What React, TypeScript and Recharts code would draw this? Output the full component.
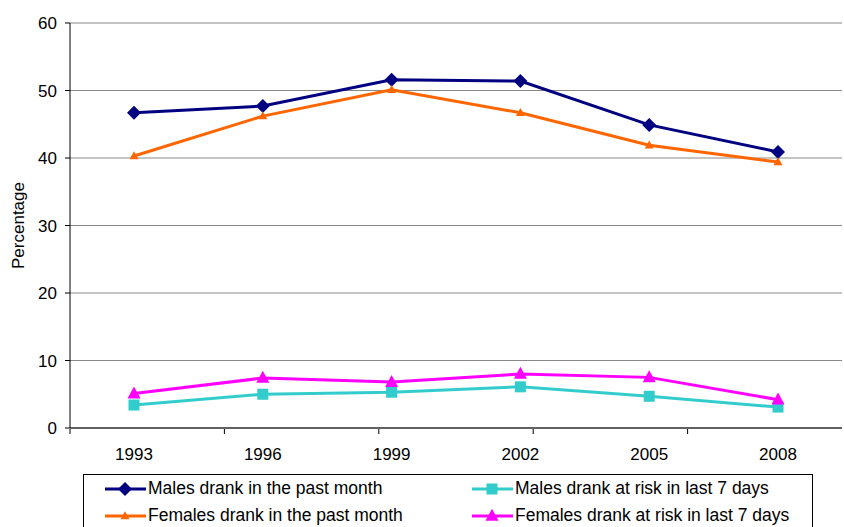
import React from "react";
import {
  LineChart,
  Line,
  XAxis,
  YAxis,
  CartesianGrid,
} from "recharts";

const YEARS = ["1993", "1996", "1999", "2002", "2005", "2008"];
const MALES_MONTH = [46.7, 47.7, 51.6, 51.4, 44.9, 40.9];
const FEMALES_MONTH = [40.3, 46.2, 50.1, 46.7, 41.9, 39.4];
const MALES_RISK = [3.4, 5.0, 5.3, 6.1, 4.7, 3.1];
const FEMALES_RISK = [5.1, 7.4, 6.8, 8.0, 7.5, 4.2];
const Y_TICKS = [0, 10, 20, 30, 40, 50, 60];
const BOUNDARY_TICKS = [0, 1, 2, 3, 4, 5, 6];

const data = YEARS.map((year, i) => ({
  year,
  malesMonth: MALES_MONTH[i],
  femalesMonth: FEMALES_MONTH[i],
  malesRisk: MALES_RISK[i],
  femalesRisk: FEMALES_RISK[i],
}));

const FONT = "'Liberation Sans', Arial, sans-serif";
const FONT_SIZE = 17;
const NAVY = "#000080";
const ORANGE = "#FF6600";
const TEAL = "#33CCCC";
const MAGENTA = "#FF00FF";

type Marker = "diamond" | "smallTriangle" | "square" | "triangle";

function MarkerShape({ kind, cx, cy, color }: { kind: Marker; cx: number; cy: number; color: string }) {
  if (kind === "diamond") {
    const r = 7;
    return <polygon points={`${cx},${cy - r} ${cx + r},${cy} ${cx},${cy + r} ${cx - r},${cy}`} fill={color} />;
  }
  if (kind === "square") {
    const s = 5.5;
    return <rect x={cx - s} y={cy - s} width={s * 2} height={s * 2} fill={color} />;
  }
  const w = kind === "triangle" ? 6.5 : 4.5;
  const h = kind === "triangle" ? 12 : 8;
  return (
    <polygon
      points={`${cx},${cy - h * 0.6} ${cx + w},${cy + h * 0.4} ${cx - w},${cy + h * 0.4}`}
      fill={color}
    />
  );
}

const makeDot = (kind: Marker, color: string) => (props: any) => {
  const { cx, cy, index } = props;
  if (cx == null || cy == null) return <g key={index} />;
  return <MarkerShape key={index} kind={kind} cx={cx} cy={cy} color={color} />;
};

const SERIES = [
  { key: "malesMonth", name: "Males drank in the past month", color: NAVY, marker: "diamond" as Marker },
  { key: "femalesMonth", name: "Females drank in the past month", color: ORANGE, marker: "smallTriangle" as Marker },
  { key: "malesRisk", name: "Males drank at risk in last 7 days", color: TEAL, marker: "square" as Marker },
  { key: "femalesRisk", name: "Females drank at risk in last 7 days", color: MAGENTA, marker: "triangle" as Marker },
];

function LegendItem({ name, color, marker }: { name: string; color: string; marker: Marker }) {
  return (
    <div style={{ display: "flex", alignItems: "center", height: 27 }}>
      <svg width={43} height={16} style={{ marginRight: 1 }}>
        <line x1={1} y1={8} x2={42} y2={8} stroke={color} strokeWidth={3} />
        <MarkerShape kind={marker} cx={21} cy={8} color={color} />
      </svg>
      <span>{name}</span>
    </div>
  );
}

export default function App() {
  const legendOrder = [SERIES[0], SERIES[2], SERIES[1], SERIES[3]];
  const tickStyle = { fontSize: FONT_SIZE, fill: "#000", fontFamily: FONT };
  return (
    <div
      style={{
        position: "absolute",
        left: 0,
        top: 0,
        width: 844,
        height: 527,
        overflow: "hidden",
        background: "#fff",
        fontFamily: FONT,
      }}
    >
      <LineChart width={844} height={527} data={data} margin={{ top: 23, right: 2, bottom: 69, left: 8 }}>
        <CartesianGrid horizontal vertical={false} stroke="#888" />
        {/* year labels; the axis is only 1px tall so it sits on the plot edge */}
        <XAxis
          dataKey="year"
          padding={{ left: 64, right: 64 }}
          axisLine={{ stroke: "#000" }}
          tickLine={false}
          tickSize={5}
          tickMargin={15}
          height={1}
          tick={tickStyle}
        />
        {/* boundary ticks between the year categories */}
        <XAxis
          xAxisId="frame"
          type="number"
          domain={[0, 6]}
          ticks={BOUNDARY_TICKS}
          tickFormatter={() => ""}
          tickSize={5}
          tickLine={{ stroke: "#000" }}
          axisLine={false}
          height={29}
          allowDataOverflow
        />
        <YAxis
          domain={[0, 60]}
          ticks={Y_TICKS}
          width={62}
          tickSize={5}
          tickMargin={8}
          axisLine={{ stroke: "#000" }}
          tickLine={{ stroke: "#000" }}
          tick={tickStyle}
          label={{
            value: "Percentage",
            angle: -90,
            position: "insideLeft",
            offset: 10,
            style: { ...tickStyle, textAnchor: "middle" },
          }}
        />
        {SERIES.map((s) => (
          <Line
            key={s.key}
            dataKey={s.key}
            name={s.name}
            type="linear"
            stroke={s.color}
            strokeWidth={3}
            dot={makeDot(s.marker, s.color)}
            activeDot={false}
            isAnimationActive={false}
          />
        ))}
      </LineChart>
      <div
        style={{
          position: "absolute",
          left: 83,
          top: 474,
          width: 730,
          height: 62,
          border: "1px solid #000",
          boxSizing: "border-box",
          display: "grid",
          gridTemplateColumns: "367px 1fr",
          alignContent: "start",
          paddingLeft: 20,
          paddingTop: 0,
          fontSize: 17.5,
          color: "#000",
        }}
      >
        {legendOrder.map((s) => (
          <LegendItem key={s.key} name={s.name} color={s.color} marker={s.marker} />
        ))}
      </div>
    </div>
  );
}
